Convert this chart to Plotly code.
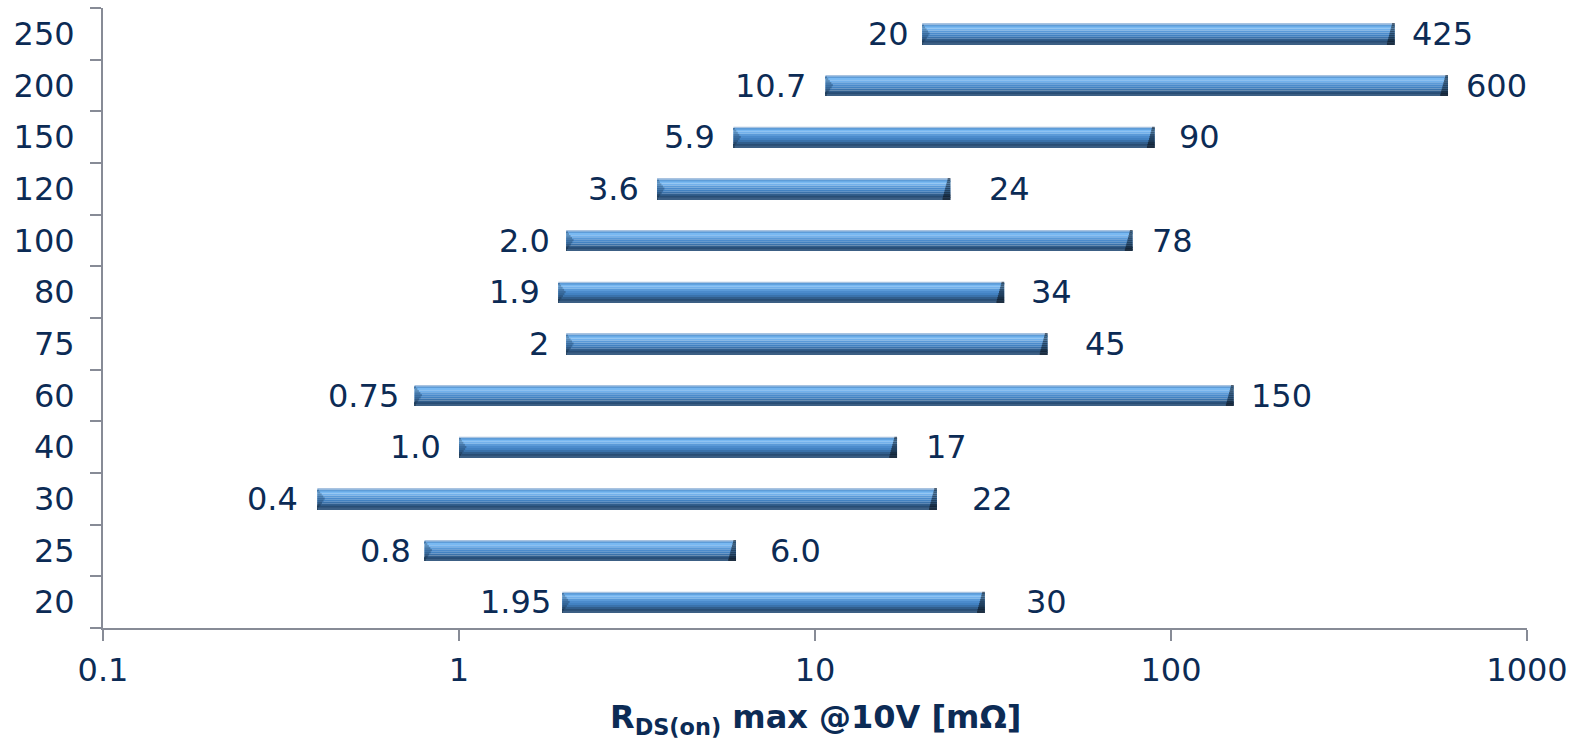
import numpy as np
import plotly.graph_objects as go

# Voltage classes (top to bottom) and R_DS(on) span for each class
voltage = ["250", "200", "150", "120", "100", "80", "75", "60", "40", "30", "25", "20"]
rds_min = [20, 10.7, 5.9, 3.6, 2.0, 1.9, 2, 0.75, 1.0, 0.4, 0.8, 1.95]
rds_max = [425, 600, 90, 24, 78, 34, 45, 150, 17, 22, 6.0, 30]
min_text = ["20", "10.7", "5.9", "3.6", "2.0", "1.9", "2", "0.75", "1.0", "0.4", "0.8", "1.95"]
max_text = ["425", "600", "90", "24", "78", "34", "45", "150", "17", "22", "6.0", "30"]

# label spacing from bar ends (px)
left_gap = [11, 17, 16, 16, 14, 16, 15, 14, 16, 17, 12, 9]
right_gap = [15, 16, 22, 37, 17, 25, 35, 15, 27, 33, 32, 39]

TEXT = "#0c2b55"
AXIS = "#878b96"
FONT = "DejaVu Sans"
FS = 32              # text size
BAR_H = 0.4          # bar thickness in category units
PX_PER_DECADE = 356  # plot width / 4 decades

# horizontal shading bands of the bevelled bar, top to bottom: (thickness share, colour)
bands = [
    (0.06, "#a9c3e0"),
    (0.08, "#5d9cd8"),
    (0.10, "#79b9f2"),
    (0.10, "#72b1ec"),
    (0.10, "#5a9ad8"),
    (0.10, "#4b8bcc"),
    (0.10, "#4282c2"),
    (0.10, "#3a72ab"),
    (0.09, "#315e8c"),
    (0.09, "#284d74"),
    (0.08, "#3c5f84"),
]


def shade(hex_color, f):
    h = hex_color.lstrip("#")
    r, g, b = (int(h[i:i + 2], 16) for i in (0, 2, 4))
    return "#%02x%02x%02x" % (int(r * f), int(g * f), int(b * f))


# category index of each voltage on the axis (bottom = 0)
order = voltage[::-1]
ypos = [order.index(v) for v in voltage]

fig = go.Figure()

lo = np.array(rds_min, dtype=float)
hi = np.array(rds_max, dtype=float)

t = 0.0
for share, color in bands:
    t0, t1 = t, t + share
    t = t1
    mid = (t0 + t1) / 2
    offset = BAR_H / 2 - t1 * BAR_H
    width = share * BAR_H
    # main body of the bar
    fig.add_trace(go.Bar(
        y=voltage, base=lo, x=hi - lo, orientation="h",
        offset=offset, width=width, marker=dict(color=color, line=dict(width=0)),
        showlegend=False, hoverinfo="skip",
    ))
    # left bevel wedge (deepest at mid-height)
    lpx = 7.5 * (1 - abs(2 * mid - 1))
    if lpx > 0.5:
        kl = 10 ** (lpx / PX_PER_DECADE)
        fig.add_trace(go.Bar(
            y=voltage, base=lo, x=lo * kl - lo, orientation="h",
            offset=offset, width=width,
            marker=dict(color=shade(color, 0.78), line=dict(width=0)),
            showlegend=False, hoverinfo="skip",
        ))
    # right bevel end (darker, widening toward the bottom)
    rpx = 2.5 + 5.5 * mid
    kr = 10 ** (rpx / PX_PER_DECADE)
    fig.add_trace(go.Bar(
        y=voltage, base=hi / kr, x=hi - hi / kr, orientation="h",
        offset=offset, width=width,
        marker=dict(color=shade(color, 0.5), line=dict(width=0)),
        showlegend=False, hoverinfo="skip",
    ))

# value labels at both ends of each bar
for yi, a, b, ta, tb, gl, gr in zip(ypos, rds_min, rds_max, min_text, max_text, left_gap, right_gap):
    fig.add_annotation(x=float(np.log10(a)), y=yi, text=ta, showarrow=False,
                       xanchor="right", yanchor="middle", xshift=-gl,
                       font=dict(family=FONT, size=FS, color=TEXT))
    fig.add_annotation(x=float(np.log10(b)), y=yi, text=tb, showarrow=False,
                       xanchor="left", yanchor="middle", xshift=gr,
                       font=dict(family=FONT, size=FS, color=TEXT))

# axis title
fig.add_annotation(xref="paper", yref="paper", x=0.5, y=-0.147,
                   text="<b>R<sub>DS(on)</sub> max @10V [mΩ]</b>", showarrow=False,
                   xanchor="center", yanchor="middle",
                   font=dict(family=FONT, size=32, color=TEXT))

fig.update_layout(
    width=1579, height=741,
    margin=dict(l=103, r=52, t=8, b=113),
    paper_bgcolor="white", plot_bgcolor="white",
    barmode="overlay",
    font=dict(family=FONT, size=FS, color=TEXT),
    xaxis=dict(
        type="log", range=[-1, 3],
        tickvals=[0.1, 1, 10, 100, 1000], ticktext=["0.1", "1", "10", "100", "1000"],
        ticks="outside", ticklen=11, tickwidth=2, tickcolor=AXIS,
        showline=True, linecolor=AXIS, linewidth=2,
        showgrid=False, zeroline=False,
        ticklabelstandoff=2,
        tickfont=dict(family=FONT, size=FS, color=TEXT),
    ),
    yaxis=dict(
        type="category", categoryorder="array", categoryarray=order,
        range=[-0.5, 11.5],
        tickson="boundaries", ticks="outside", ticklen=11, tickwidth=2, tickcolor=AXIS,
        showline=True, linecolor=AXIS, linewidth=2,
        showgrid=False, zeroline=False,
        ticklabelstandoff=20,
        tickfont=dict(family=FONT, size=FS, color=TEXT),
    ),
)

fig.write_html("out.html")
